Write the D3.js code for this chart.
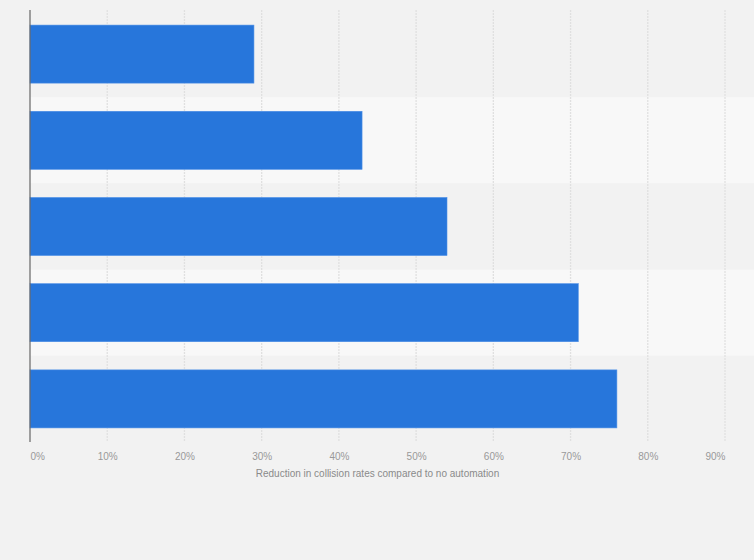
<!DOCTYPE html>
<html>
<head>
<meta charset="utf-8">
<script src="https://cdn.jsdelivr.net/npm/d3@7"></script>
<style>
  html, body { margin: 0; padding: 0; background: #f2f2f2; }
  svg { display: block; }
</style>
</head>
<body>
<svg id="chart" width="754" height="560"></svg>
<script>
// Data
const categories = ["Category A", "Category B", "Category C", "Category D", "Category E"];
const values = [29, 43, 54, 71, 76];
const tickValues = [0, 10, 20, 30, 40, 50, 60, 70, 80, 90];
const axisTitle = "Reduction in collision rates compared to no automation";

const svg = d3.select("#chart");
const W = 754, H = 560;
const m = { left: 30, right: 29, top: 11, bottom: 118 };

const x = d3.scaleLinear().domain([0, 90]).range([m.left, W - m.right]);
const y = d3.scaleBand().domain(categories).range([m.top, H - m.bottom]).paddingInner(0.327).paddingOuter(0.1635);

svg.append("rect").attr("width", W).attr("height", H).attr("fill", "#f2f2f2");

// alternating stripes
const step = y.step();
svg.append("g").selectAll("rect").data(categories).join("rect")
  .attr("x", m.left)
  .attr("y", d => y(d) - step * y.paddingInner() / 2)
  .attr("width", W - m.left)
  .attr("height", step)
  .attr("fill", (d, i) => i % 2 === 0 ? "#f2f2f2" : "#f8f8f8");

// gridlines
svg.append("g").selectAll("line").data(tickValues.slice(1)).join("line")
  .attr("x1", d => x(d)).attr("x2", d => x(d))
  .attr("y1", m.top - 1).attr("y2", H - m.bottom)
  .attr("stroke", "#e0e0e0")
  .attr("stroke-width", 1.3)
  .attr("stroke-dasharray", "2,1");

// bars
svg.append("g").selectAll("rect").data(values).join("rect")
  .attr("x", x(0))
  .attr("y", (d, i) => y(categories[i]))
  .attr("width", d => x(d) - x(0))
  .attr("height", y.bandwidth())
  .attr("fill", "#2776db")
  .attr("stroke", "#4d8fe6")
  .attr("stroke-width", 0.6);

// axis line
svg.append("line")
  .attr("x1", x(0)).attr("x2", x(0))
  .attr("y1", m.top - 1).attr("y2", H - m.bottom)
  .attr("stroke", "#666")
  .attr("stroke-width", 1.2);

// x axis labels
const axis = d3.axisBottom(x).tickValues(tickValues).tickFormat(d => d + "%").tickSize(0).tickPadding(0);
const gx = svg.append("g").attr("transform", `translate(0, ${H - m.bottom + 10.5})`).call(axis);
gx.select(".domain").remove();
gx.selectAll("text")
  .attr("font-family", "Arial, 'Liberation Sans', sans-serif")
  .attr("font-size", 10)
  .attr("fill", "#999")
  .attr("dy", "0.71em")
  .attr("text-anchor", (d, i, n) => i === 0 ? "start" : (i === n.length - 1 ? "end" : "middle"));

// axis title
svg.append("text")
  .attr("x", (x(0) + x(90)) / 2)
  .attr("y", 477)
  .attr("text-anchor", "middle")
  .attr("font-family", "Arial, 'Liberation Sans', sans-serif")
  .attr("font-size", 10)
  .attr("fill", "#8a8a8a")
  .text(axisTitle);
</script>
</body>
</html>
